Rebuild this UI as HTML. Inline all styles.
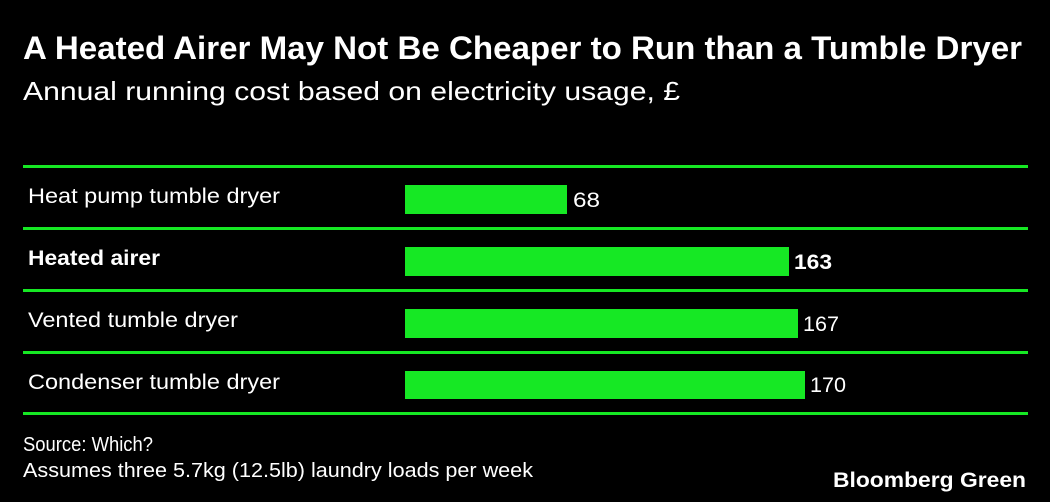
<!DOCTYPE html>
<html><head><meta charset="utf-8"><style>
html,body{margin:0;padding:0;background:#000;}
svg{display:block;}
text{font-family:"Liberation Sans",Arial,sans-serif;fill:#fff;}
</style></head><body>
<svg width="1050" height="502" viewBox="0 0 1050 502">
<rect width="1050" height="502" fill="#000"/>
<text x="23" y="59" font-size="32" font-weight="bold" textLength="999" lengthAdjust="spacingAndGlyphs">A Heated Airer May Not Be Cheaper to Run than a Tumble Dryer</text>
<text x="23" y="100" font-size="26" textLength="657" lengthAdjust="spacingAndGlyphs">Annual running cost based on electricity usage, £</text>
<g fill="#16e824">
<rect x="23" y="165" width="1005" height="3"/>
<rect x="23" y="227" width="1005" height="3"/>
<rect x="23" y="289" width="1005" height="3"/>
<rect x="23" y="351" width="1005" height="3"/>
<rect x="23" y="412" width="1005" height="3"/>
<rect x="405" y="185" width="162" height="29"/>
<rect x="405" y="247" width="384" height="29"/>
<rect x="405" y="309" width="393" height="29"/>
<rect x="405" y="371" width="400" height="28"/>
</g>
<g font-size="21" lengthAdjust="spacingAndGlyphs">
<text x="28" y="203" textLength="252" lengthAdjust="spacingAndGlyphs">Heat pump tumble dryer</text>
<text x="28" y="265" font-weight="bold" textLength="132" lengthAdjust="spacingAndGlyphs">Heated airer</text>
<text x="28" y="327" textLength="210" lengthAdjust="spacingAndGlyphs">Vented tumble dryer</text>
<text x="28" y="389" textLength="252" lengthAdjust="spacingAndGlyphs">Condenser tumble dryer</text>
<text x="573" y="207" textLength="27" lengthAdjust="spacingAndGlyphs">68</text>
<text x="794" y="269" font-weight="bold" textLength="38" lengthAdjust="spacingAndGlyphs">163</text>
<text x="803" y="331" textLength="36" lengthAdjust="spacingAndGlyphs">167</text>
<text x="810" y="392" textLength="36" lengthAdjust="spacingAndGlyphs">170</text>
</g>
<text x="23" y="451" font-size="20" textLength="130" lengthAdjust="spacingAndGlyphs">Source: Which?</text>
<text x="23" y="477" font-size="20" textLength="510" lengthAdjust="spacingAndGlyphs">Assumes three 5.7kg (12.5lb) laundry loads per week</text>
<text x="1026" y="487" font-size="21" font-weight="bold" text-anchor="end" textLength="193" lengthAdjust="spacingAndGlyphs">Bloomberg Green</text>
</svg>
</body></html>
